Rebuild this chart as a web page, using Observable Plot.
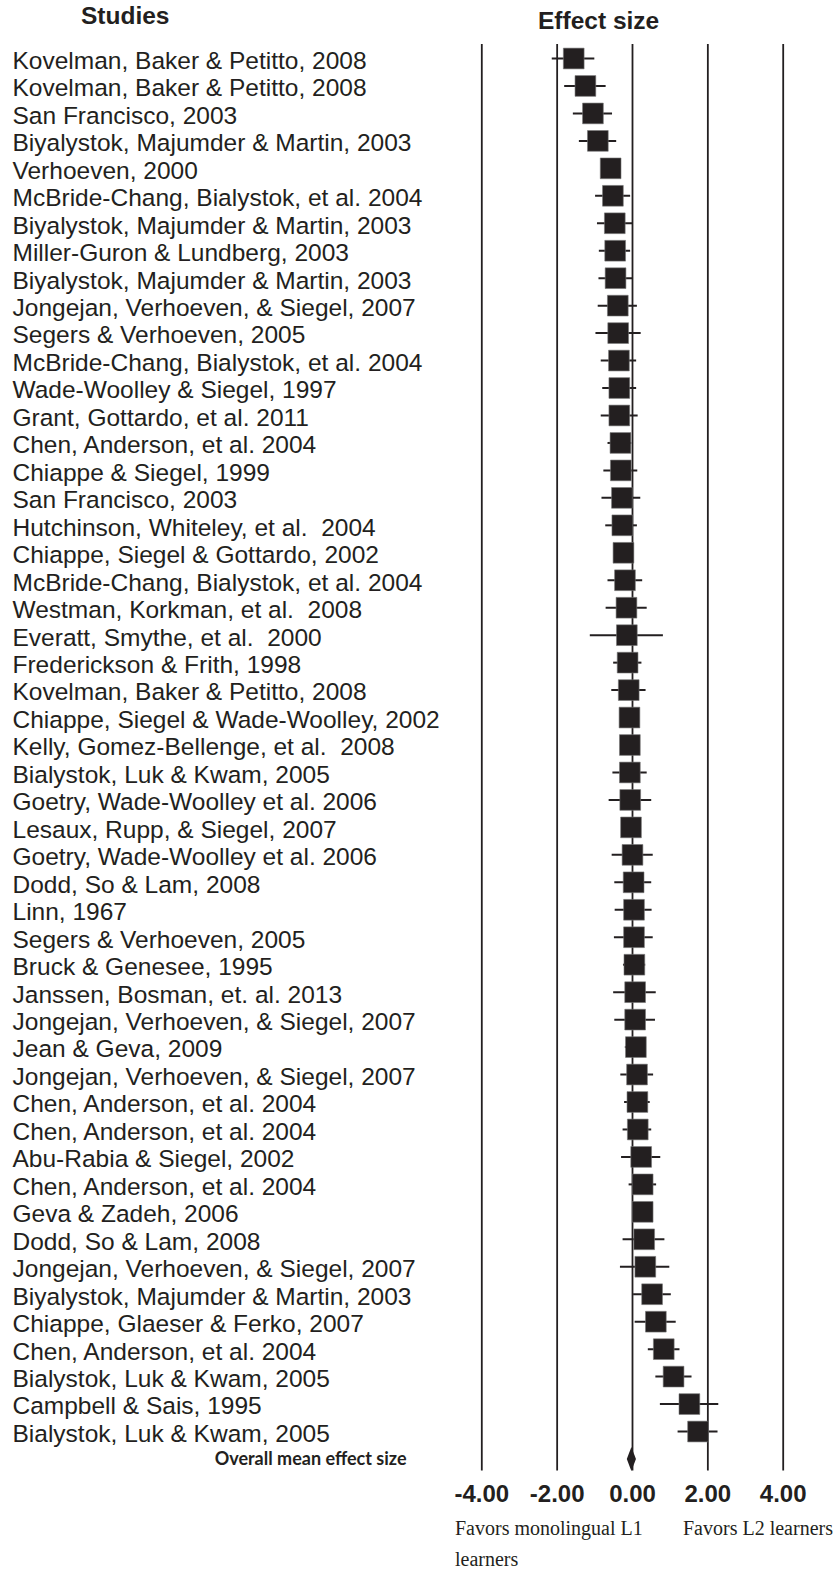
<!DOCTYPE html>
<html>
<head>
<meta charset="utf-8">
<script src="https://cdn.jsdelivr.net/npm/d3@7"></script>
<script src="https://cdn.jsdelivr.net/npm/@observablehq/plot@0.6"></script>
<style>
  html, body { margin: 0; padding: 0; background: #fff; }
  #wrap { position: relative; width: 833px; height: 1571px; }
  .hdr { position: absolute; font-family: "Liberation Sans", Arial, sans-serif; font-weight: bold; font-size: 24.5px; line-height: 1; color: #231f20; white-space: nowrap; }
  .foot { position: absolute; font-family: "Liberation Serif", "Times New Roman", serif; font-size: 20px; line-height: 31px; color: #231f20; white-space: nowrap; }
  #chart { position: absolute; left: 0; top: 0; }
</style>
</head>
<body>
<div id="wrap">
  <div id="chart"></div>
  <div class="hdr" style="left:81px; top:4px;">Studies</div>
  <div class="hdr" style="left:538px; top:9px;">Effect size</div>
  <div class="foot" style="left:455px; top:1513px;">Favors monolingual L1<br>learners</div>
  <div class="foot" style="left:683px; top:1513px;">Favors L2 learners</div>
</div>
<script>
const studies = [
  "Kovelman, Baker & Petitto, 2008",
  "Kovelman, Baker & Petitto, 2008",
  "San Francisco, 2003",
  "Biyalystok, Majumder & Martin, 2003",
  "Verhoeven, 2000",
  "McBride-Chang, Bialystok, et al. 2004",
  "Biyalystok, Majumder & Martin, 2003",
  "Miller-Guron & Lundberg, 2003",
  "Biyalystok, Majumder & Martin, 2003",
  "Jongejan, Verhoeven, & Siegel, 2007",
  "Segers & Verhoeven, 2005",
  "McBride-Chang, Bialystok, et al. 2004",
  "Wade-Woolley & Siegel, 1997",
  "Grant, Gottardo, et al. 2011",
  "Chen, Anderson, et al. 2004",
  "Chiappe & Siegel, 1999",
  "San Francisco, 2003",
  "Hutchinson, Whiteley, et al.  2004",
  "Chiappe, Siegel & Gottardo, 2002",
  "McBride-Chang, Bialystok, et al. 2004",
  "Westman, Korkman, et al.  2008",
  "Everatt, Smythe, et al.  2000",
  "Frederickson & Frith, 1998",
  "Kovelman, Baker & Petitto, 2008",
  "Chiappe, Siegel & Wade-Woolley, 2002",
  "Kelly, Gomez-Bellenge, et al.  2008",
  "Bialystok, Luk & Kwam, 2005",
  "Goetry, Wade-Woolley et al. 2006",
  "Lesaux, Rupp, & Siegel, 2007",
  "Goetry, Wade-Woolley et al. 2006",
  "Dodd, So & Lam, 2008",
  "Linn, 1967",
  "Segers & Verhoeven, 2005",
  "Bruck & Genesee, 1995",
  "Janssen, Bosman, et. al. 2013",
  "Jongejan, Verhoeven, & Siegel, 2007",
  "Jean & Geva, 2009",
  "Jongejan, Verhoeven, & Siegel, 2007",
  "Chen, Anderson, et al. 2004",
  "Chen, Anderson, et al. 2004",
  "Abu-Rabia & Siegel, 2002",
  "Chen, Anderson, et al. 2004",
  "Geva & Zadeh, 2006",
  "Dodd, So & Lam, 2008",
  "Jongejan, Verhoeven, & Siegel, 2007",
  "Biyalystok, Majumder & Martin, 2003",
  "Chiappe, Glaeser & Ferko, 2007",
  "Chen, Anderson, et al. 2004",
  "Bialystok, Luk & Kwam, 2005",
  "Campbell & Sais, 1995",
  "Bialystok, Luk & Kwam, 2005"
];
const effect = [-1.56,-1.25,-1.05,-0.92,-0.58,-0.52,-0.47,-0.46,-0.45,-0.39,-0.38,-0.36,-0.35,-0.35,-0.32,-0.31,-0.28,-0.27,-0.24,-0.20,-0.16,-0.15,-0.13,-0.10,-0.08,-0.07,-0.07,-0.06,-0.04,0.00,0.03,0.04,0.04,0.05,0.07,0.07,0.09,0.12,0.13,0.14,0.23,0.27,0.27,0.31,0.34,0.52,0.62,0.83,1.09,1.51,1.74];
const lower = [-2.13,-1.80,-1.57,-1.41,-0.78,-0.98,-0.93,-0.88,-0.89,-0.91,-0.97,-0.83,-0.79,-0.83,-0.65,-0.76,-0.81,-0.71,-0.44,-0.65,-0.70,-1.12,-0.50,-0.55,-0.28,-0.27,-0.52,-0.62,-0.24,-0.54,-0.47,-0.46,-0.48,-0.24,-0.50,-0.47,-0.19,-0.31,-0.21,-0.25,-0.29,-0.09,0.07,-0.25,-0.32,0.03,0.07,0.42,0.62,0.74,1.21];
const upper = [-1.00,-0.70,-0.53,-0.42,-0.38,-0.05,0.00,-0.05,0.00,0.13,0.23,0.11,0.11,0.15,-0.02,0.14,0.22,0.13,-0.04,0.27,0.39,0.82,0.25,0.36,0.12,0.13,0.39,0.51,0.16,0.55,0.51,0.52,0.55,0.35,0.63,0.61,0.37,0.56,0.47,0.51,0.75,0.64,0.47,0.86,0.99,1.03,1.16,1.26,1.58,2.29,2.27];
const overallLabel = ["Overall mean effect size"];
const overallMean = [-0.03];
const ticks = [-4, -2, 0, 2, 4];

const ink = "#231f20";
const rows = studies.map((s, i) => ({i, study: s, effect: effect[i], lower: lower[i], upper: upper[i]}));
const overall = overallLabel.map((t, k) => ({i: studies.length + k, label: t, mean: overallMean[k]}));
const nRows = studies.length + overall.length;

const diamond = {
  draw(context, size) {
    const r = Math.sqrt(size / Math.PI);
    const w = r * 0.38;
    context.moveTo(0, -r);
    context.lineTo(w, 0);
    context.lineTo(0, r);
    context.lineTo(-w, 0);
    context.closePath();
  }
};

const chart = Plot.plot({
  width: 833,
  height: 1571,
  marginLeft: 481.3,
  marginRight: 50.3,
  marginTop: 58,
  marginBottom: 112.5,
  style: {fontFamily: "'Liberation Sans', Arial, sans-serif", color: ink, background: "white"},
  x: {domain: [-4, 4], axis: null},
  y: {type: "linear", domain: [0, nRows - 1], reverse: true, axis: null},
  marks: [
    Plot.ruleX(ticks, {x: d => d, stroke: ink, strokeWidth: 1.8, insetTop: -14, insetBottom: -12}),
    Plot.ruleY(rows, {y: "i", x1: "lower", x2: "upper", stroke: ink, strokeWidth: 2}),
    Plot.dot(rows, {x: "effect", y: "i", symbol: "square", r: 11.7, fill: ink, stroke: "#777", strokeWidth: 0.6}),
    Plot.dot(overall, {x: "mean", y: "i", symbol: diamond, r: 12, fill: ink}),
    Plot.text(rows, {y: "i", text: "study", frameAnchor: "left", textAnchor: "start", lineAnchor: "middle", dx: 12 - 481.3, dy: 2.5, fontSize: 24.5, fill: ink}),
    Plot.text(overall, {y: "i", text: "label", frameAnchor: "left", textAnchor: "end", lineAnchor: "middle", dx: 406 - 481.3, dy: 0, fontSize: 18, fontWeight: "bold", fontFamily: "Lato, 'Liberation Sans', sans-serif", fill: ink}),
    Plot.text(ticks, {x: d => d, text: d => d.toFixed(2), frameAnchor: "bottom", lineAnchor: "middle", dy: 35.5, fontSize: 24, fontWeight: "bold", fill: ink})
  ]
});
document.getElementById("chart").appendChild(chart);
</script>
</body>
</html>
